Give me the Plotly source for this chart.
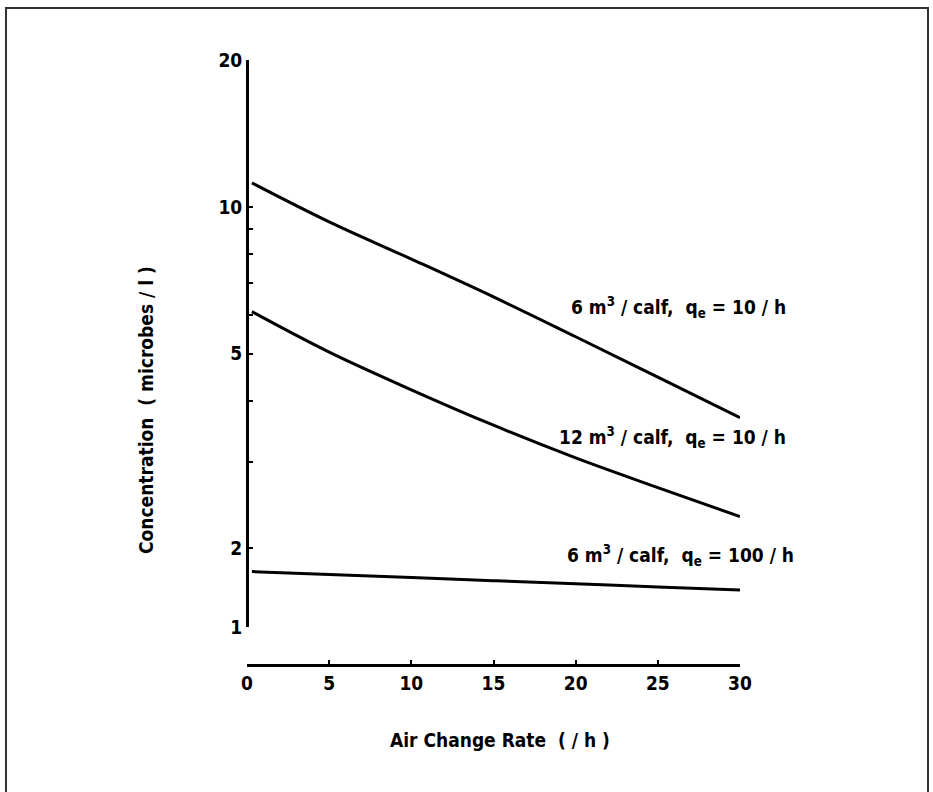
import math
import plotly.graph_objects as go

# ---- data ----
air_change_rate = [0.3, 5, 10, 15, 20, 25, 30]
conc_6m3_q10 = [11.2, 9.32, 7.82, 6.54, 5.42, 4.48, 3.70]
conc_12m3_q10 = [6.1, 5.04, 4.22, 3.57, 3.06, 2.66, 2.32]
conc_6m3_q100 = [1.79, 1.765, 1.74, 1.715, 1.69, 1.665, 1.64]

x_ticks = [0, 5, 10, 15, 20, 25, 30]
# bottom of the drawn axis carries the label "1" in the reference
y_axis_bottom = 1.378
y_axis_top = 20
y_tickvals = [y_axis_bottom, 2, 3, 4, 5, 6, 7, 8, 9, 10, 20]
y_ticktext = ["1", "2", "", "", "5", "", "", "", "", "10", "20"]

series_labels = [
    "6 m<sup>3</sup> / calf,\u00a0 q<sub>e</sub> = 10 / h",
    "12 m<sup>3</sup> / calf,\u00a0 q<sub>e</sub> = 10 / h",
    "6 m<sup>3</sup> / calf,\u00a0 q<sub>e</sub> = 100 / h",
]

W, H = 933, 792
FONT = "DejaVu Sans Condensed, Liberation Sans Narrow, Arial Narrow, sans-serif"


def px(x):
    return x / W


def py(y):
    return 1 - y / H


fig = go.Figure()
for ys in (conc_6m3_q10, conc_12m3_q10, conc_6m3_q100):
    fig.add_trace(go.Scatter(x=air_change_rate, y=ys, mode="lines",
                             line=dict(color="black", width=3, shape="spline", smoothing=1.0),
                             showlegend=False, hoverinfo="skip"))

label_pos = [(678, 308), (672, 437), (680, 555)]
for text, (lx, ly) in zip(series_labels, label_pos):
    fig.add_annotation(x=px(lx), y=py(ly), xref="paper", yref="paper", text=text,
                       showarrow=False, xanchor="center", yanchor="middle",
                       font=dict(family=FONT, size=19, color="black", weight="bold"))

fig.add_annotation(x=px(500), y=py(740), xref="paper", yref="paper",
                   text="Air Change Rate\u00a0 ( / h )", showarrow=False,
                   xanchor="center", yanchor="middle",
                   font=dict(family=FONT, size=19, color="black", weight="bold"))
fig.add_annotation(x=px(146), y=py(410), xref="paper", yref="paper",
                   text="Concentration\u00a0 ( microbes / l )", showarrow=False, textangle=-90,
                   xanchor="center", yanchor="middle",
                   font=dict(family=FONT, size=19, color="black", weight="bold"))

# outer frame
fig.add_shape(type="rect", xref="paper", yref="paper",
              x0=px(6), x1=px(928), y0=py(830), y1=py(8),
              line=dict(color="#333", width=2), fillcolor="rgba(0,0,0,0)")

fig.update_layout(
    width=W, height=H,
    margin=dict(l=0, r=0, t=0, b=0, autoexpand=False),
    paper_bgcolor="white", plot_bgcolor="white",
    font=dict(family=FONT, size=19, color="black", weight="bold"),
    xaxis=dict(domain=[px(247), px(740)], range=[0, 30], anchor="free", position=py(665),
               showline=True, linewidth=3, linecolor="black", showgrid=False, zeroline=False,
               ticks="inside", ticklen=4, tickwidth=2, tickcolor="black",
               tickvals=x_ticks, tickfont=dict(family=FONT, size=19, weight="bold")),
    yaxis=dict(type="log", domain=[py(627), py(60)],
               range=[math.log10(y_axis_bottom), math.log10(y_axis_top)],
               anchor="free", position=px(247),
               showline=True, linewidth=3, linecolor="black", showgrid=False, zeroline=False,
               ticks="inside", ticklen=4, tickwidth=2, tickcolor="black",
               tickvals=y_tickvals, ticktext=y_ticktext,
               tickfont=dict(family=FONT, size=19, weight="bold")),
)

fig.write_html("out.html", config={"displayModeBar": False},
               post_script="document.body.style.margin='0';")
